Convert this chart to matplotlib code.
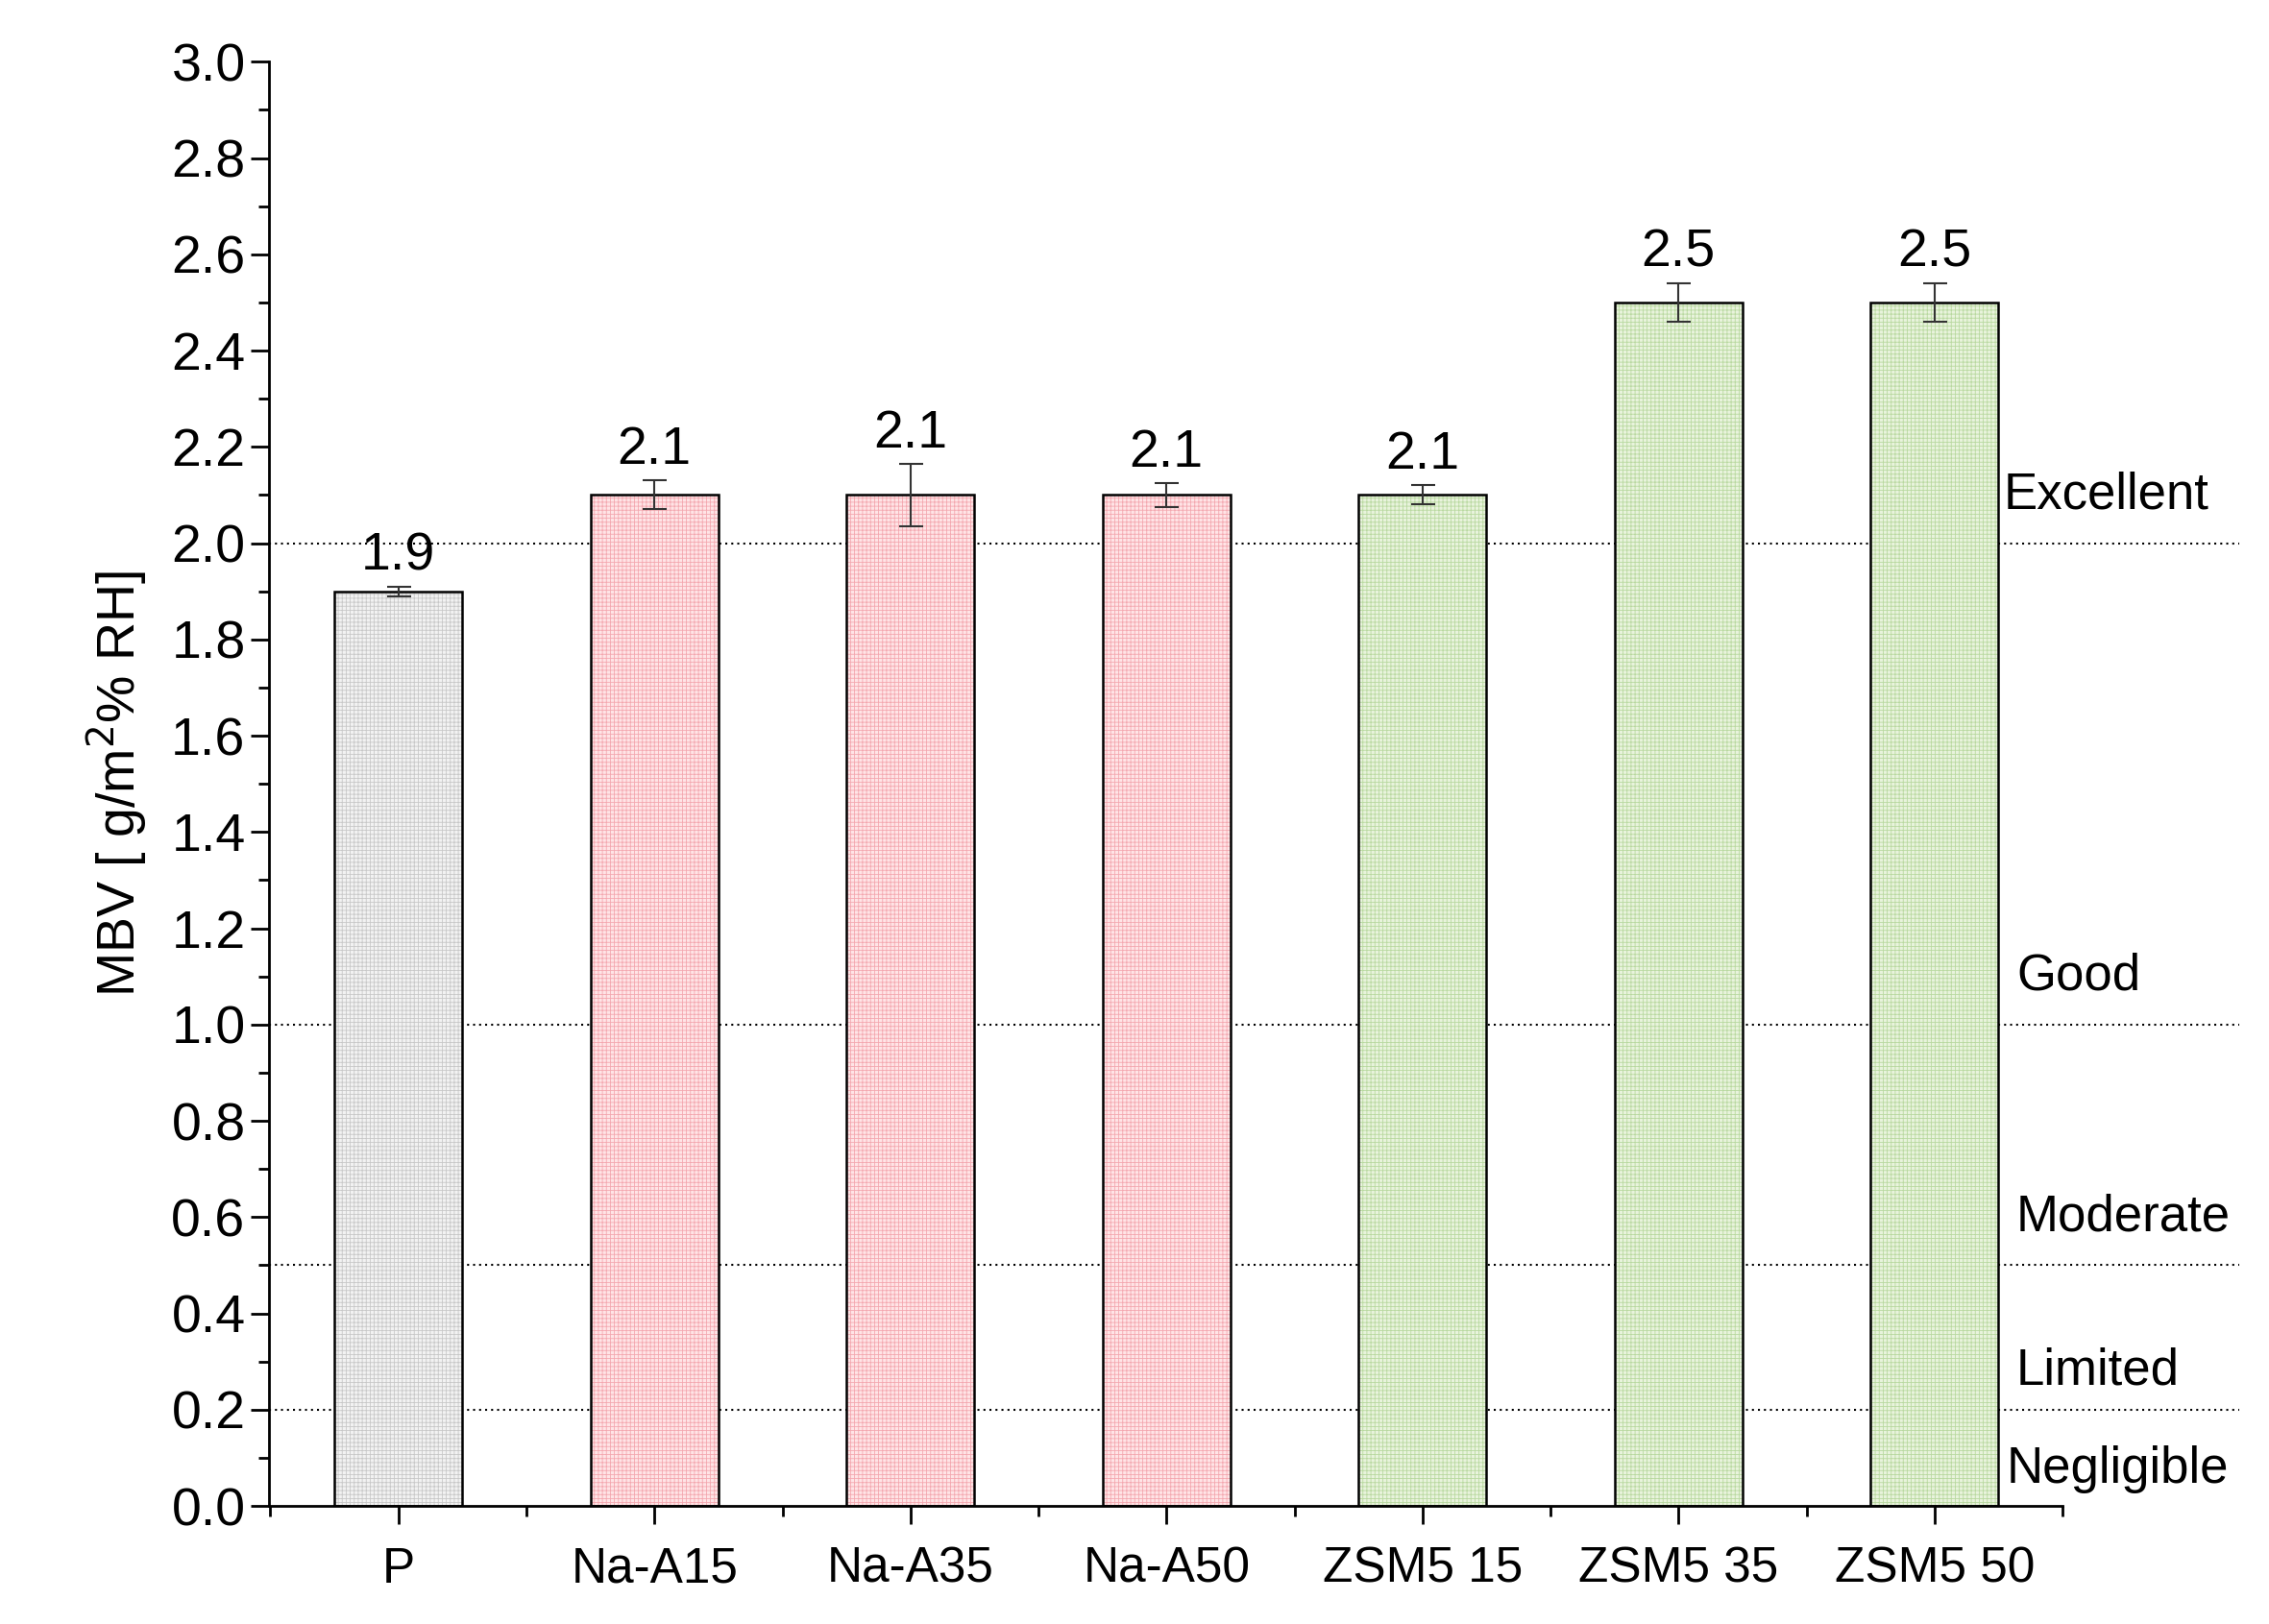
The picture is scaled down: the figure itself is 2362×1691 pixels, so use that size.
import matplotlib
matplotlib.use("Agg")
import matplotlib.pyplot as plt
from matplotlib.ticker import MultipleLocator, FixedLocator

categories = ["P", "Na-A15", "Na-A35", "Na-A50", "ZSM5 15", "ZSM5 35", "ZSM5 50"]
values = [1.9, 2.1, 2.1, 2.1, 2.1, 2.5, 2.5]
errors = [0.01, 0.03, 0.065, 0.025, 0.02, 0.04, 0.04]
labels = ["1.9", "2.1", "2.1", "2.1", "2.1", "2.5", "2.5"]
class_levels = [2.0, 1.0, 0.5, 0.2, 0.0]
class_names = ["Excellent", "Good", "Moderate", "Limited", "Negligible"]

faces = ["#f2f2f2", "#ffe4e6", "#ffe4e6", "#ffe4e6", "#e8f3dc", "#e8f3dc", "#e8f3dc"]
hatchc = ["#c8c8c8", "#f4a8b0", "#f4a8b0", "#f4a8b0", "#b9d9a0", "#b9d9a0", "#b9d9a0"]

plt.rcParams['font.family'] = ['Liberation Sans', 'DejaVu Sans']
plt.rcParams['hatch.linewidth'] = 0.6
fig = plt.figure(figsize=(23.62, 16.91), dpi=100)
ax = fig.add_axes([0.1185, 0.0727, 0.7905, 0.8893])
x = list(range(len(categories)))

for lvl in class_levels[:-1]:
    ax.plot([-0.506, 7.19], [lvl, lvl], ls=(0, (1, 2)), color="black", lw=1.5,
            clip_on=False, zorder=1)

for i in x:
    plt.rcParams['hatch.color'] = hatchc[i]
    ax.bar(i, values[i], width=0.5, color=faces[i], edgecolor=hatchc[i],
           hatch="++++", lw=0, zorder=2)
    ax.bar(i, values[i], width=0.5, color="none", edgecolor="black", lw=1.8, zorder=3)
ax.errorbar(x, values, yerr=errors, fmt="none", ecolor="#333333", elinewidth=1.5,
            capsize=9, capthick=1.5, zorder=4)
for i in x:
    ax.text(i, values[i] + errors[i] + 0.01, labels[i], ha="center", va="bottom", fontsize=40)

lab_y = [2.1, 1.1, 0.6, 0.28, 0.075]
lab_x = [6.27, 6.32, 6.32, 6.32, 6.28]
for n, yy, xx in zip(class_names, lab_y, lab_x):
    ax.text(xx, yy, n, ha="left", va="center", fontsize=38, clip_on=False)

ax.set_xlim(-0.506, 6.5)
ax.set_ylim(0, 3.0)
ax.set_xticks(x)
ax.set_xticklabels(categories, fontsize=37)
ax.xaxis.set_minor_locator(FixedLocator([i + 0.5 for i in range(-1, 7)]))
ax.yaxis.set_major_locator(MultipleLocator(0.2))
ax.yaxis.set_minor_locator(MultipleLocator(0.1))
ax.set_yticklabels([f"{v:.1f}" for v in ax.get_yticks()], fontsize=40)
ax.tick_params(which="major", direction="out", length=14, width=2)
ax.tick_params(which="minor", direction="out", length=8, width=2)
ax.tick_params(axis="x", pad=16)
ax.set_ylabel("MBV [ g/m$^2$% RH]", fontsize=40, labelpad=16)
for s in ["top", "right"]:
    ax.spines[s].set_visible(False)
for s in ["left", "bottom"]:
    ax.spines[s].set_linewidth(2)
fig.savefig("out.png", dpi=100, facecolor="white")
